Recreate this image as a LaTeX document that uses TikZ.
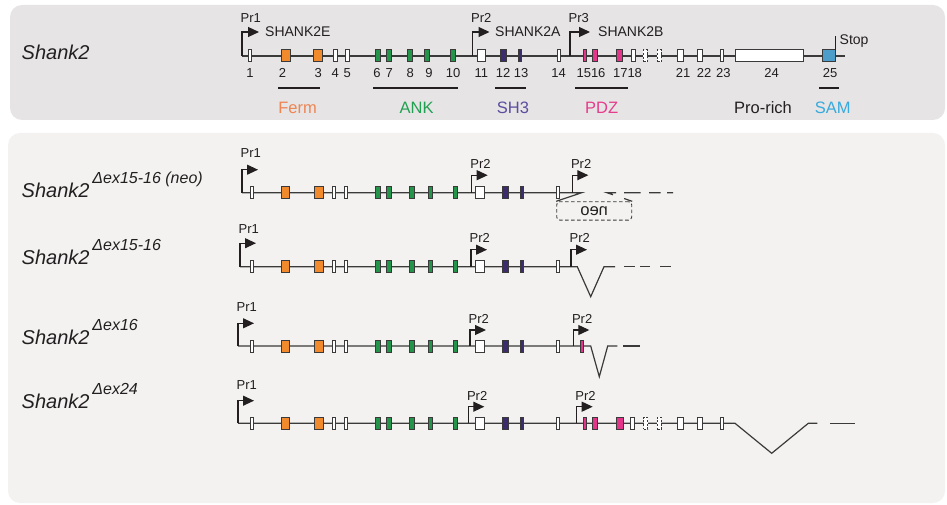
\documentclass[tikz,border=0pt]{standalone}
\usepackage{fontspec}
\usepackage{graphicx}
\setmainfont{Liberation Sans}
\usetikzlibrary{arrows.meta}

\definecolor{panelA}{HTML}{E6E4E5}
\definecolor{panelB}{HTML}{F3F2F1}
\definecolor{ink}{HTML}{3A3A3A}
\definecolor{txt}{HTML}{231F20}
\definecolor{ferm}{HTML}{F08A2C}
\definecolor{ank}{HTML}{24944A}
\definecolor{shthree}{HTML}{3C2C6E}
\definecolor{pdz}{HTML}{E3358A}
\definecolor{sam}{HTML}{4C9DC9}
\definecolor{fermT}{HTML}{EE8552}
\definecolor{ankT}{HTML}{22A052}
\definecolor{shT}{HTML}{5A4E9E}
\definecolor{pdzT}{HTML}{E63C8C}
\definecolor{samT}{HTML}{38AADC}

\newcommand\fs[1]{\fontsize{#1}{#1}\selectfont}

\tikzset{
  gene/.style={draw=ink, line width=1.2pt},
  exon/.style={draw=ink, line width=1pt, inner sep=0pt, outer sep=0pt, minimum height=12pt},
  ghost/.style={exon, fill=white, dash pattern=on 2.2pt off 1.6pt},
  promarrow/.style={draw=txt, line width=1.1pt, -{Triangle[length=11pt,width=10pt]}},
  prlabel/.style={inner sep=0pt, text=txt, font=\fs{13}, anchor=base west},
  num/.style={inner sep=0pt, text=txt, font=\fs{13}, anchor=base},
  dom/.style={inner sep=0pt, font=\fs{16.5}, anchor=base},
  dombar/.style={draw=txt, line width=1.3pt},
  gname/.style={inner sep=0pt, text=txt, font=\fs{20}\itshape, anchor=base west},
  gsup/.style={inner sep=0pt, text=txt, font=\fs{16}\itshape, anchor=base west},
  iso/.style={inner sep=0pt, text=txt, font=\fs{14}, anchor=base west},
  neobox/.style={draw=ink, line width=0.9pt, dash pattern=on 3.5pt off 2.5pt,
    rounded corners=3pt, minimum width=75pt, minimum height=18.3pt, inner sep=0pt,
    text=txt, font=\fs{16.5}},
}

% promoter: name, x, line y, rise, run, label gap, label
\newcommand\promoter[7]{%
  \coordinate (#1) at (#2,#3);
  \draw[promarrow] (#1) |- ++(#5,-#4) coordinate (#1-tip);
  \path (#1) ++(-1.5,{-#4-#6}) node[prlabel] (#1-lab) {#7};
}

% exons 1-14 of a mutant allele: prefix, line y
\newcommand\frontexons[2]{%
  \foreach \n/\x/\w/\cl in {1/252/3.7/white, 2/285.5/8.7/ferm, 3/319/8.7/ferm,
      4/334/3.7/white, 5/346/3.7/white, 6/378/5/ank, 7/389/5/ank, 8/412/4.7/ank,
      9/430.5/4.7/ank, 10/455.5/4.7/ank, 11/480/8.3/white, 12/505.5/5.7/shthree,
      13/522/3.7/shthree, 14/558/3.3/white}
    \node[exon, minimum width=\w pt, fill=\cl] (#1-x\n) at (\x,#2) {};
}

\begin{document}
\begin{tikzpicture}[x=1pt,y=-1pt]
\useasboundingbox (0,0) rectangle (947,505);
\fill[panelA, rounded corners=12pt] (10,5) rectangle (945,120);
\fill[panelB, rounded corners=12pt] (8,133) rectangle (945,503);

% ---------------- wild-type gene ----------------
\node[gname] (t-name) at (21.5,60) {Shank2};
\coordinate (t-s) at (242,56);
\coordinate (t-e) at (845,56);
\draw[gene] (t-s) -- (t-e);
\foreach \n/\x/\w/\cl in {1/250/3.7/white, 2/285.7/8.7/ferm, 3/318.3/8.7/ferm,
    4/335.3/3.7/white, 5/347.3/3.7/white, 6/378.3/5/ank, 7/389.3/5/ank,
    8/410/4.7/ank, 9/427.3/4.7/ank, 10/453/4.7/ank, 11/481.3/8.3/white,
    12/503.3/5.7/shthree, 13/520/3.7/shthree, 14/559/3.3/white, 15/585/3.7/pdz,
    16/595.3/4.7/pdz, 17/619.7/6.5/pdz, 18/633.3/3.7/white, 21/680.3/5.7/white,
    22/700/4.3/white, 23/721.7/3/white, 24/769.5/68/white, 25/829/13.5/sam}
  \node[exon, minimum width=\w pt, fill=\cl] (t-x\n) at (\x,56) {};
\node[ghost, minimum width=4pt] (t-x19) at (645.3,56) {};
\node[ghost, minimum width=4pt] (t-x20) at (659.3,56) {};

\promoter{t-p1}{242}{56}{24}{17}{9}{Pr1}
\promoter{t-p2}{472.5}{56}{24}{17}{9}{Pr2}
\promoter{t-p3}{570}{56}{24}{20}{9}{Pr3}
\node[iso] (t-iE) at (265,37) {SHANK2E};
\node[iso] (t-iA) at (495,37) {SHANK2A};
\node[iso] (t-iB) at (598,37) {SHANK2B};

\draw[draw=txt, line width=1pt] (t-x25.north east) -- ++(0,-14) coordinate (t-stop);
\node[iso] (t-stoplab) at (839.5,44.5) {Stop};

\foreach \t/\x in {1/250, 2/282.5, 3/318.3, 4/335.3, 5/347.3, 6/377, 7/389.3,
    8/410.3, 9/429, 10/453, 11/481.3, 12/503, 13/521, 14/558.5, 1516/591,
    1718/627.5, 21/683, 22/704, 23/723.3, 24/771.5, 25/830}
  \node[num] (t-n\t) at (\x,78) {\t};

\draw[dombar] (278,88) -- (320,88);
\draw[dombar] (373,88) -- (458,88);
\draw[dombar] (495,88) -- (526,88);
\draw[dombar] (575,88) -- (627.7,88);
\draw[dombar] (819,88) -- (839,88);
\node[dom, text=fermT] (t-dFerm) at (297.5,114) {Ferm};
\node[dom, text=ankT] (t-dANK) at (416.7,114) {ANK};
\node[dom, text=shT] (t-dSH3) at (513,114) {SH3};
\node[dom, text=pdzT] (t-dPDZ) at (601.7,114) {PDZ};
\node[dom, text=txt] (t-dPro) at (763,114) {Pro-rich};
\node[dom, text=samT] (t-dSAM) at (832.7,114) {SAM};

% ---------------- Delta ex15-16 (neo) ----------------
\node[gname] (a-name) at (21.5,197.7) {Shank2};
\node[gsup] (a-sup) at ([shift={(2.5,-14.4)}]a-name.base east) {Δex15-16 (neo)};
\coordinate (a-s) at (242,192.7);
\coordinate (a-k) at (581.7,192.7);
\node[neobox] (a-neo) at (594.2,210.9) {\scalebox{-1}[1]{neo}};
\draw[gene] (a-s) -- (a-k) -- (a-neo.north west);
\coordinate (a-v) at (607,192.7);
\coordinate (a-e) at (673.3,192.7);
\draw[gene, dash pattern=on 8.5pt off 11.8pt on 15.3pt off 8pt on 16.7pt off 8.3pt on 11.7pt off 6.3pt on 6pt off 40pt]
  (a-neo.north east) -- (a-v) -- (a-e);
\frontexons{a}{192.7}
\promoter{a-p1}{242}{192.7}{23}{16}{12}{Pr1}
\promoter{a-p2}{471.7}{192.7}{17.5}{16}{7}{Pr2}
\promoter{a-p3}{572.3}{192.7}{17.5}{16}{7}{Pr2}

% ---------------- Delta ex15-16 ----------------
\node[gname] (b-name) at (21.5,264) {Shank2};
\node[gsup] (b-sup) at ([shift={(2.5,-14)}]b-name.base east) {Δex15-16};
\coordinate (b-s) at (240,266.7);
\coordinate (b-k) at (577.3,266.7);
\coordinate (b-v) at (590.7,296.7);
\coordinate (b-u) at (604,266.7);
\coordinate (b-e) at (615,266.7);
\draw[gene] (b-s) -- (b-k) -- (b-v) -- (b-u) -- (b-e);
\coordinate (b-d1) at (624,266.7);
\coordinate (b-d2) at (670.7,266.7);
\draw[gene, dash pattern=on 11pt off 5pt on 10pt off 10pt on 10.7pt off 30pt] (b-d1) -- (b-d2);
\frontexons{b}{266.7}
\promoter{b-p1}{240}{266.7}{23.5}{16}{9.5}{Pr1}
\promoter{b-p2}{471}{266.7}{17}{16}{7}{Pr2}
\promoter{b-p3}{571}{266.7}{17}{16}{7}{Pr2}

% ---------------- Delta ex16 ----------------
\node[gname] (c-name) at (21.5,344) {Shank2};
\node[gsup] (c-sup) at ([shift={(2.5,-14)}]c-name.base east) {Δex16};
\coordinate (c-s) at (238,346);
\coordinate (c-k) at (590.7,346);
\coordinate (c-v) at (599.3,376.7);
\coordinate (c-u) at (607.7,346);
\coordinate (c-e) at (617.3,346);
\draw[gene] (c-s) -- (c-k) -- (c-v) -- (c-u) -- (c-e);
\coordinate (c-d1) at (623.3,346);
\coordinate (c-d2) at (640,346);
\draw[gene] (c-d1) -- (c-d2);
\frontexons{c}{346}
\node[exon, minimum width=3.7pt, fill=pdz] (c-x15) at (582,346) {};
\promoter{c-p1}{238}{346}{22.7}{16}{11.5}{Pr1}
\promoter{c-p2}{470}{346}{16}{16}{7}{Pr2}
\promoter{c-p3}{573.3}{346}{16}{16}{7}{Pr2}

% ---------------- Delta ex24 ----------------
\node[gname] (d-name) at (21.5,408.3) {Shank2};
\node[gsup] (d-sup) at ([shift={(2.5,-13.5)}]d-name.base east) {Δex24};
\coordinate (d-s) at (238,423.3);
\coordinate (d-k) at (735,423.3);
\coordinate (d-v) at (771.7,453.3);
\coordinate (d-u) at (808.3,423.3);
\coordinate (d-e) at (817.3,423.3);
\draw[gene] (d-s) -- (d-k) -- (d-v) -- (d-u) -- (d-e);
\coordinate (d-d1) at (830,423.3);
\coordinate (d-d2) at (855,423.3);
\draw[gene] (d-d1) -- (d-d2);
\frontexons{d}{423.3}
\foreach \n/\x/\w/\cl in {15/585/3.7/pdz, 16/595/4.7/pdz, 17/620/6.5/pdz,
    18/632.7/3.7/white, 21/680.7/5.7/white, 22/700/4.3/white, 23/721.7/3/white}
  \node[exon, minimum width=\w pt, fill=\cl] (d-x\n) at (\x,423.3) {};
\node[ghost, minimum width=4pt] (d-x19) at (645.7,423.3) {};
\node[ghost, minimum width=4pt] (d-x20) at (659.3,423.3) {};
\promoter{d-p1}{238}{423.3}{22.6}{16}{11}{Pr1}
\promoter{d-p2}{468.3}{423.3}{16.6}{16}{6.5}{Pr2}
\promoter{d-p3}{576.7}{423.3}{16.6}{16}{6.5}{Pr2}
\end{tikzpicture}
\end{document}
